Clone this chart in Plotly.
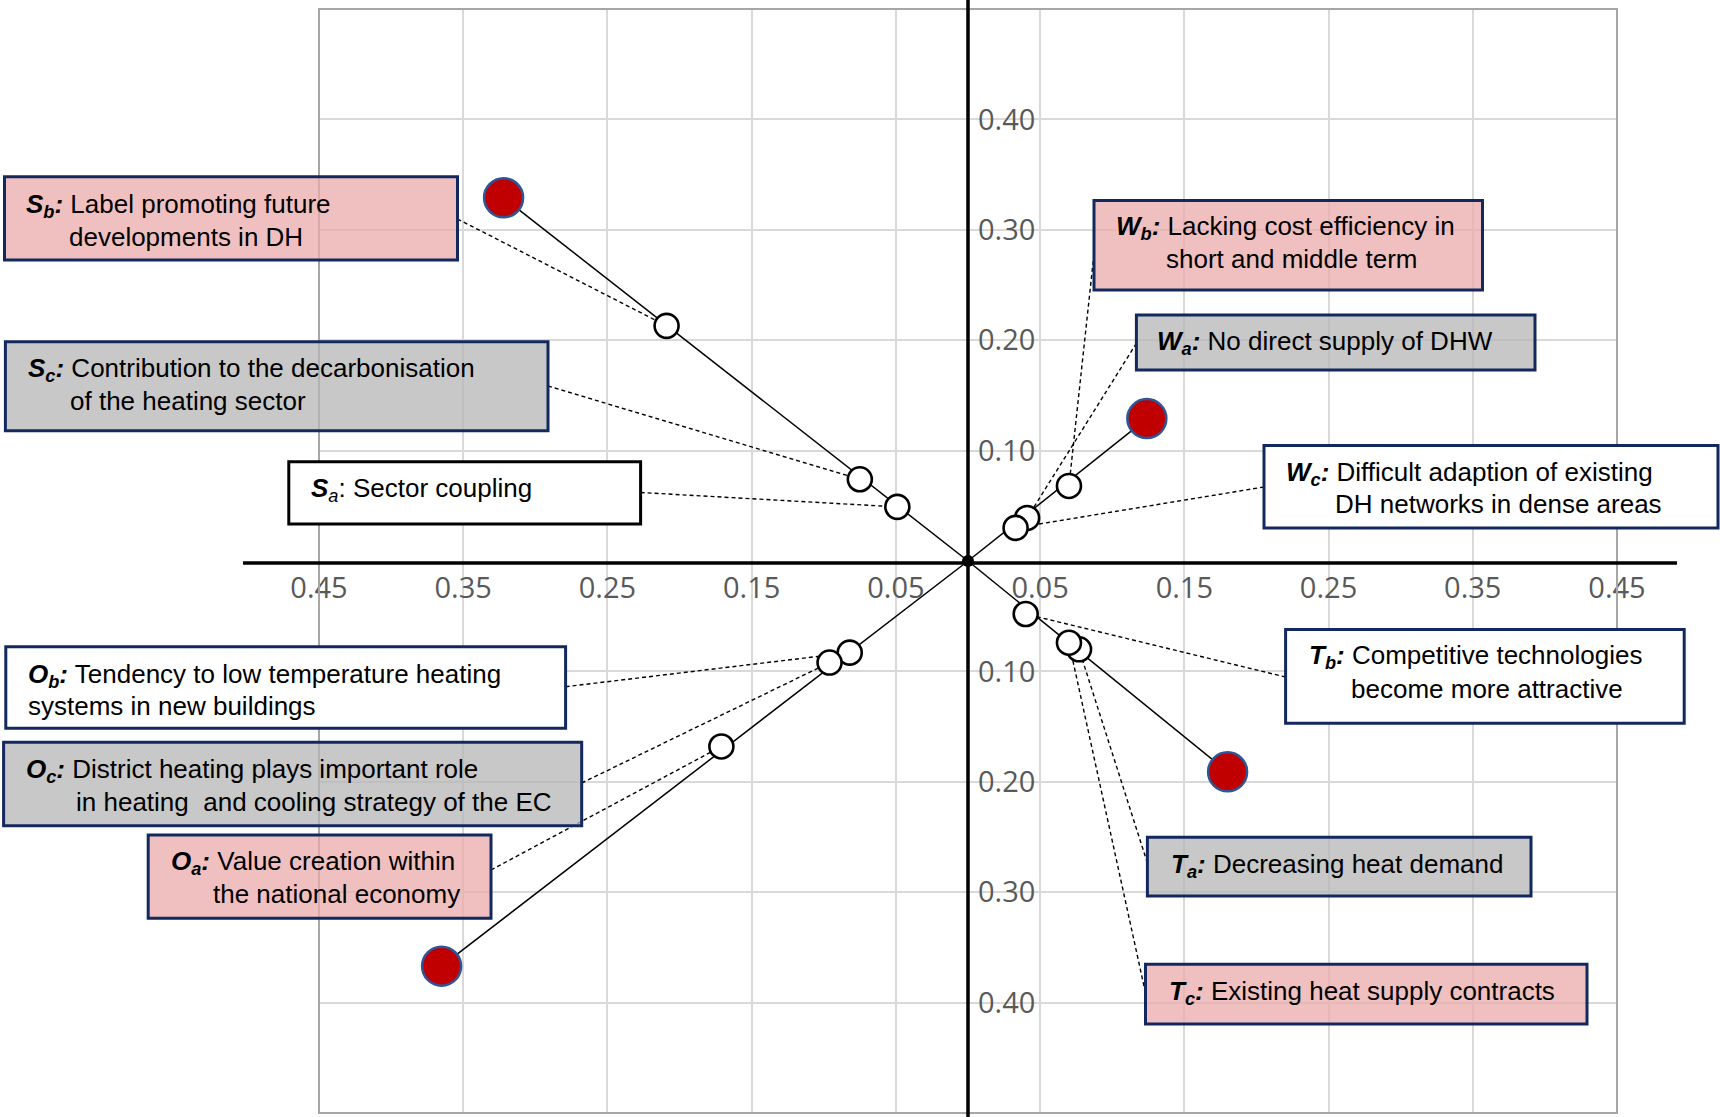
import plotly.graph_objects as go

# ---------------- data ----------------
groups = ["S", "W", "O", "T"]
# resulting (red) points per group
red_x = [-0.322, 0.124, -0.365, 0.180]
red_y = [0.329, 0.129, -0.367, -0.191]

# individual factors (white points)
factor_names = ["Sa", "Sb", "Sc", "Wa", "Wb", "Wc", "Oa", "Ob", "Oc", "Ta", "Tb", "Tc"]
factor_x = [-0.049, -0.209, -0.075, 0.041, 0.070, 0.033, -0.171, -0.082, -0.096, 0.077, 0.040, 0.070]
factor_y = [0.049, 0.213, 0.074, 0.039, 0.068, 0.030, -0.168, -0.083, -0.092, -0.080, -0.048, -0.074]

x_tick_vals = [-0.45, -0.35, -0.25, -0.15, -0.05, 0.05, 0.15, 0.25, 0.35, 0.45]
x_tick_text = ["0.45", "0.35", "0.25", "0.15", "0.05", "0.05", "0.15", "0.25", "0.35", "0.45"]
y_tick_vals = [-0.4, -0.3, -0.2, -0.1, 0.1, 0.2, 0.3, 0.4]
y_tick_text = ["0.40", "0.30", "0.20", "0.10", "0.10", "0.20", "0.30", "0.40"]

# label texts (letter, subscript, lines)
label_sym = {"Sa": ("S", "a"), "Sb": ("S", "b"), "Sc": ("S", "c"),
             "Wa": ("W", "a"), "Wb": ("W", "b"), "Wc": ("W", "c"),
             "Oa": ("O", "a"), "Ob": ("O", "b"), "Oc": ("O", "c"),
             "Ta": ("T", "a"), "Tb": ("T", "b"), "Tc": ("T", "c")}
label_lines = {
    "Sb": ["Label promoting future", "developments in DH"],
    "Sc": ["Contribution to the decarbonisation", "of the heating sector"],
    "Sa": ["Sector coupling"],
    "Wb": ["Lacking cost efficiency in", "short and middle term"],
    "Wa": ["No direct supply of DHW"],
    "Wc": ["Difficult adaption of existing", "DH networks in dense areas"],
    "Tb": ["Competitive technologies", "become more attractive"],
    "Ta": ["Decreasing heat demand"],
    "Tc": ["Existing heat supply contracts"],
    "Ob": ["Tendency to low temperature heating", "systems in new buildings"],
    "Oc": ["District heating plays important role", "in heating  and cooling strategy of the EC"],
    "Oa": ["Value creation within", "the national economy"],
}

# ---------------- layout geometry (pixels) ----------------
W, H = 1720, 1117
L, R, T, B = 319, 1617, 9, 1113
PW, PH = R - L, B - T
XR = [-0.45, 0.45]
YR = [-0.5, 0.5]


def px(xp):
    return (xp - L) / PW


def py(yp):
    return (B - yp) / PH


def pix2data(xp, yp):
    return (XR[0] + (xp - L) / PW * (XR[1] - XR[0]),
            YR[0] + (B - yp) / PH * (YR[1] - YR[0]))


PINK = "rgba(235,171,171,0.75)"
GRAY = "rgba(182,182,182,0.75)"
WHITE = "white"
NAVY = "#13285E"

# box: (x0, y0, x1, y1), fill, border, text line positions (left, center-y), leader anchor
boxes = {
    "Sb": ((4.5, 176.7, 457.5, 260.0), PINK, NAVY, [(24.5, 205), (68, 236.5)], (457.5, 219)),
    "Sc": ((5.4, 341.7, 548.0, 430.7), GRAY, NAVY, [(26.8, 370), (69, 400.5)], (548.0, 386)),
    "Sa": ((288.8, 461.7, 640.6, 524.0), WHITE, "black", [(310, 489)], (640.6, 492.5)),
    "Wb": ((1094.0, 200.5, 1482.5, 290.0), PINK, NAVY, [(1114.8, 227), (1165, 259)], (1094.0, 254)),
    "Wa": ((1136.4, 315.0, 1535.0, 370.0), GRAY, NAVY, [(1156, 342.5)], (1136.4, 343.3)),
    "Wc": ((1264.0, 445.5, 1718.0, 528.0), WHITE, NAVY, [(1284.7, 473.5), (1334, 504)], (1264.0, 487)),
    "Tb": ((1285.6, 629.5, 1684.2, 723.2), WHITE, NAVY, [(1307.6, 657), (1350.3, 688.5)], (1285.6, 677)),
    "Ta": ((1147.4, 837.3, 1531.0, 896.0), GRAY, NAVY, [(1170, 865.5)], (1147.4, 863)),
    "Tc": ((1145.5, 964.3, 1587.0, 1024.0), PINK, NAVY, [(1167.6, 992)], (1145.5, 993)),
    "Ob": ((5.8, 646.7, 565.6, 728.3), WHITE, NAVY, [(26.8, 675), (26.8, 706)], (565.6, 686.7)),
    "Oc": ((3.6, 742.3, 581.7, 825.7), GRAY, NAVY, [(24.6, 770), (75, 801.5)], (581.7, 783)),
    "Oa": ((148.2, 835.0, 491.0, 918.3), PINK, NAVY, [(169.6, 862), (212, 894)], (491.0, 870)),
}

fig = go.Figure()

# leader (dashed) lines from each label box to its factor point
for name, fx, fy in zip(factor_names, factor_x, factor_y):
    ax, ay = pix2data(*boxes[name][4])
    fig.add_trace(go.Scatter(x=[ax, fx], y=[ay, fy], mode="lines",
                             line=dict(color="black", width=1.4, dash="4px,3px"),
                             hoverinfo="skip", showlegend=False))

# vectors from origin to resulting points
for g, rx, ry in zip(groups, red_x, red_y):
    fig.add_trace(go.Scatter(x=[0, rx], y=[0, ry], mode="lines",
                             line=dict(color="black", width=1.5),
                             hoverinfo="skip", showlegend=False))

# white factor points
fig.add_trace(go.Scatter(x=factor_x, y=factor_y, mode="markers", text=factor_names,
                         marker=dict(size=24, color="white", line=dict(color="black", width=2.6)),
                         showlegend=False))
# red resulting points
fig.add_trace(go.Scatter(x=red_x, y=red_y, mode="markers", text=groups,
                         marker=dict(size=39, color="#C00000", line=dict(color="#2F5597", width=2.5)),
                         showlegend=False))
# origin
fig.add_trace(go.Scatter(x=[0], y=[0], mode="markers",
                         marker=dict(size=12, color="black"), hoverinfo="skip", showlegend=False))

shapes = []
# plot border
shapes.append(dict(type="rect", xref="paper", yref="paper", x0=0, y0=0, x1=1, y1=1,
                   line=dict(color="#A6A6A6", width=2), fillcolor="rgba(0,0,0,0)", layer="above"))
# main axes (extend beyond plot area)
shapes.append(dict(type="line", xref="paper", yref="paper", x0=px(243), x1=px(1677), y0=py(563), y1=py(563),
                   line=dict(color="black", width=3.5), layer="above"))
shapes.append(dict(type="line", xref="paper", yref="paper", x0=0.5, x1=0.5, y0=py(1117), y1=py(0),
                   line=dict(color="black", width=3.5), layer="above"))

annotations = []
for name, (rect, fill, border, lines, anchor) in boxes.items():
    x0, y0, x1, y1 = rect
    shapes.append(dict(type="rect", xref="paper", yref="paper",
                       x0=px(x0), x1=px(x1), y0=py(y1), y1=py(y0),
                       fillcolor=fill, line=dict(color=border, width=3), layer="above"))
    letter, sub = label_sym[name]
    for i, (text, (lx, ly)) in enumerate(zip(label_lines[name], lines)):
        if i == 0:
            if name == "Sa":
                t = f"<b><i>{letter}</i></b><i><sub>{sub}</sub></i>: {text}"
            else:
                t = f"<b><i>{letter}<sub>{sub}</sub>:</i></b> {text}"
        else:
            t = text
        annotations.append(dict(xref="paper", yref="paper", x=px(lx), y=py(ly),
                                xanchor="left", yanchor="middle", showarrow=False,
                                text=t, borderpad=0,
                                font=dict(family="Liberation Sans, Arial, sans-serif", size=26, color="black")))

tickfont = dict(family="Open Sans, DejaVu Sans, sans-serif", size=29, color="#595959")

fig.update_layout(
    width=W, height=H, autosize=False,
    margin=dict(l=L, r=W - R, t=T, b=H - B, pad=0),
    paper_bgcolor="white", plot_bgcolor="white",
    showlegend=False,
    shapes=shapes, annotations=annotations,
    xaxis=dict(range=XR, tickvals=x_tick_vals, ticktext=x_tick_text,
               showgrid=True, gridcolor="#D9D9D9", gridwidth=2,
               zeroline=False, showline=False, ticks="",
               anchor="free", position=0.5, tickfont=tickfont,
               ticklabelstandoff=7, fixedrange=True),
    yaxis=dict(range=YR, tickvals=y_tick_vals, ticktext=y_tick_text,
               showgrid=True, gridcolor="#D9D9D9", gridwidth=2,
               zeroline=False, showline=False, ticks="",
               anchor="free", position=0.5, side="right", tickfont=tickfont,
               ticklabelstandoff=9, fixedrange=True),
)

fig.write_html("out.html", config={"displayModeBar": False},
               post_script="document.body.style.margin='0';document.body.style.overflow='hidden';")
